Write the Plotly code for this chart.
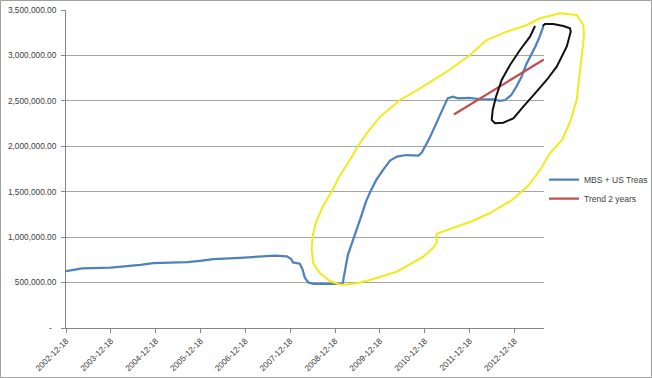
import plotly.graph_objects as go

# ---------------- data ----------------
DATES = [
    "2002-12-18", "2003-03-05", "2003-04-30", "2003-12-17", "2004-05-01", "2004-08-15",
    "2004-11-28", "2005-09-01", "2005-12-14", "2006-03-31", "2006-11-05", "2007-04-16",
    "2007-08-16", "2007-11-21", "2007-12-26", "2008-01-09", "2008-03-05", "2008-03-26",
    "2008-04-16", "2008-05-14", "2008-06-25", "2009-02-11", "2009-02-18", "2009-02-25",
    "2009-03-18", "2009-04-01", "2009-04-29", "2009-05-20", "2009-06-24", "2009-07-22",
    "2009-08-26", "2009-10-07", "2009-11-18", "2010-01-13", "2010-03-10", "2010-05-05",
    "2010-07-21", "2010-10-27", "2010-11-24", "2011-01-26", "2011-04-20", "2011-06-22",
    "2011-08-03", "2011-09-14", "2011-12-14", "2012-03-07", "2012-06-27", "2012-08-22",
    "2012-10-03", "2012-11-21", "2013-01-02", "2013-02-13", "2013-03-27", "2013-04-24",
    "2013-06-05", "2013-07-10", "2013-08-14",
]
MBS_TREAS = [
    625000, 640000, 655000, 665000, 678000, 695000,
    714000, 725000, 740000, 758000, 773000, 787000,
    797000, 788000, 760000, 722000, 707000, 650000,
    550000, 501000, 487000, 487000, 494000, 549000,
    714000, 805000, 915000, 1007000, 1135000, 1245000,
    1391000, 1520000, 1630000, 1740000, 1842000, 1886000,
    1904000, 1897000, 1930000, 2090000, 2350000, 2527000,
    2545000, 2527000, 2534000, 2520000, 2516000, 2501000,
    2509000, 2564000, 2655000, 2765000, 2912000, 2985000,
    3095000, 3204000, 3335000,
]
TREND_DATES = ["2011-08-12", "2013-08-14"]
TREND_VALUES = [2350000, 2955000]

X_TICKS = ["2002-12-18", "2003-12-18", "2004-12-18", "2005-12-18", "2006-12-18",
           "2007-12-18", "2008-12-18", "2009-12-18", "2010-12-18", "2011-12-18", "2012-12-18"]
X_TICK_LABELS = X_TICKS
Y_TICKS = [0, 500000, 1000000, 1500000, 2000000, 2500000, 3000000, 3500000]
Y_TICK_LABELS = ["-\u00a0\u00a0", "500,000.00", "1,000,000.00", "1,500,000.00", "2,000,000.00",
                 "2,500,000.00", "3,000,000.00", "3,500,000.00"]

# ---------------- hand-drawn annotation loops (image pixel coords) ----------------
YELLOW_LOOP = [(340, 284.5), (330, 281), (320, 273.3), (313.3, 263.3), (311.7, 250), (312.5, 237),
               (316, 222), (323, 206), (331.7, 191.5), (339, 177), (346.7, 165), (353, 155),
               (358, 146), (366.7, 133.3), (380, 116.7), (400, 100), (420, 88.3), (446.7, 71.7),
               (470, 55), (486.7, 40), (506.7, 31.7), (526.7, 25), (540, 18.3), (560, 13.3),
               (576.7, 15), (583.3, 25), (584, 35), (583.3, 43.3), (580, 70), (576.7, 100),
               (570, 122), (562, 140), (550, 153), (540, 170), (528, 186), (512, 200),
               (490, 213), (470, 222), (450, 229), (437, 233.5), (436, 237), (437, 241.7),
               (433, 248), (423.3, 256.7), (396.7, 271.7), (370, 280), (356.7, 283.3),
               (345, 284.8), (340, 284.5)]
BLACK_LOOP = [(535, 26), (530, 36.7), (520, 50), (510, 65), (501.7, 80), (496, 96.7),
              (492.7, 110), (491.7, 120), (495, 123.3), (503.3, 122.7), (513.3, 118.3),
              (523.3, 106.7), (535, 93.3), (546.7, 80), (556.7, 66.7), (566.7, 46.7),
              (570.7, 31.7), (570, 28.3), (563.3, 26), (553.3, 24), (545, 24), (542.7, 26)]

W, H = 652, 378
ML, MR, MT, MB = 66, 108, 10, 50
PW, PH = W - ML - MR, H - MT - MB


def to_paper(pt):
    x, y = pt
    return (x - ML) / PW, (H - MB - y) / PH


def path_from(points):
    pts = [to_paper(p) for p in points]
    return "M " + " L ".join(f"{a:.4f},{b:.4f}" for a, b in pts)


fig = go.Figure()
fig.add_trace(go.Scatter(x=DATES, y=MBS_TREAS, mode="lines", name="MBS + US Treas",
                         line=dict(color="#4F81BD", width=2.25)))
fig.add_trace(go.Scatter(x=TREND_DATES, y=TREND_VALUES, mode="lines", name="Trend 2 years",
                         line=dict(color="#C0504D", width=2.25)))

bx0, by0 = to_paper((0.5, 377.5))
bx1, by1 = to_paper((651.5, 0.5))
fig.update_layout(
    width=W, height=H,
    margin=dict(l=ML, r=MR, t=MT, b=MB, pad=0, autoexpand=False),
    paper_bgcolor="white", plot_bgcolor="white",
    font=dict(family="Liberation Sans, Arial, sans-serif", size=8.3, color="#404040"),
    xaxis=dict(type="date", range=["2002-12-18", "2013-08-15"], automargin=False,
               tickvals=X_TICKS, ticktext=X_TICK_LABELS, tickangle=-45,
               showgrid=False, zeroline=False, showline=True, linecolor="#868686", linewidth=1,
               ticks="outside", ticklen=4, tickcolor="#868686",
               tickfont=dict(size=8.3, color="#404040")),
    yaxis=dict(range=[0, 3500000], tickvals=Y_TICKS, ticktext=Y_TICK_LABELS, automargin=False,
               showgrid=True, gridcolor="#a6a6a6", gridwidth=1, zeroline=False,
               showline=True, linecolor="#868686", linewidth=1,
               ticks="outside", ticklen=4, tickcolor="#868686", ticklabelstandoff=3,
               tickfont=dict(size=8.3, color="#404040")),
    legend=dict(x=1.0, xanchor="left", y=0.512, yanchor="top", bgcolor="rgba(0,0,0,0)",
                font=dict(size=8.5, color="#404040"), itemwidth=30, tracegroupgap=0),
    shapes=[
        dict(type="path", xref="paper", yref="paper", path=path_from(YELLOW_LOOP),
             line=dict(color="#f2ea1c", width=2), layer="above"),
        dict(type="path", xref="paper", yref="paper", path=path_from(BLACK_LOOP),
             line=dict(color="#111111", width=2), layer="above"),
        dict(type="rect", xref="paper", yref="paper", x0=bx0, y0=by0, x1=bx1, y1=by1,
             line=dict(color="#a0a0a0", width=1), layer="below"),
    ],
)

fig.write_html("out.html", config={"displayModeBar": False},
               post_script="document.body.style.margin='0';document.body.style.overflow='hidden';")
